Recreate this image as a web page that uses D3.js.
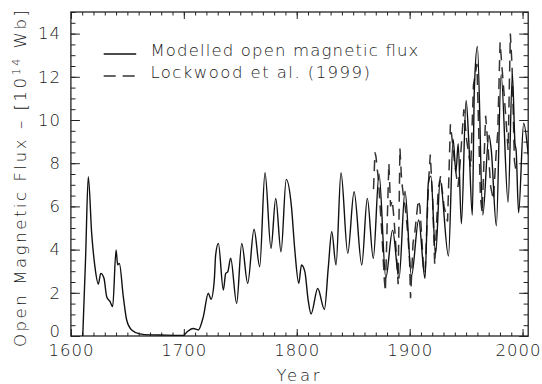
<!DOCTYPE html>
<html>
<head>
<meta charset="utf-8">
<script src="https://cdnjs.cloudflare.com/ajax/libs/d3/7.8.5/d3.min.js"></script>
<style>
  body { margin: 0; background: #fff; }
  svg text { font-family: "DejaVu Sans", sans-serif; font-weight: 200; fill: #1a1a1a; }
</style>
</head>
<body>
<div id="vis"></div>
<script>
//Modelled open magnetic flux as [year, 10^14 Wb]
var modelledFlux = [
  [1610.5, 0.0], [1613, 3.6], [1615.4, 7.38], [1618.4, 4.75], [1621.3, 3.2], [1624.3, 2.4],
  [1626.4, 2.9], [1629.3, 2.67], [1631.7, 1.82], [1634.6, 1.6], [1637, 1.36], [1640, 3.98],
  [1641.4, 3.3], [1642.9, 3.36], [1646.4, 1.82], [1649.4, 0.74], [1653.8, 0.28], [1661, 0.1],
  [1670, 0.05], [1685, 0.04], [1699.6, 0.02], [1703, 0.2], [1708.4, 0.35], [1712.8, 0.28],
  [1717.3, 0.9], [1721.7, 1.98], [1724.1, 1.7], [1727, 2.6], [1728.2, 3.75], [1730.6, 4.29],
  [1735, 2.13], [1737.1, 2.9], [1738.9, 2.97], [1741.5, 3.6], [1746.8, 1.51], [1751.3, 4.29],
  [1756.6, 2.44], [1762.2, 4.94], [1767.2, 3.21], [1771.9, 7.56], [1777.2, 4.06], [1781.4, 6.37],
  [1786.1, 3.9], [1790.7, 7.25], [1795.3, 6.0], [1798.3, 3.98], [1801.8, 2.44], [1804.2, 3.29],
  [1807.2, 2.98], [1810.1, 1.67], [1812.7, 1.02], [1818.6, 2.2], [1824.5, 1.23], [1828, 3.2],
  [1831, 4.83], [1834.8, 3.29], [1839.2, 7.56], [1845.2, 3.83], [1850.8, 6.68], [1857.6, 3.29],
  [1862.5, 6.37], [1867.8, 3.6], [1872.9, 7.5], [1878.9, 2.7], [1884.9, 4.9], [1890.6, 2.67],
  [1895.9, 6.7], [1901.6, 2.78], [1908, 5.37], [1913.6, 2.67], [1916.6, 7.1], [1918.8, 7.4],
  [1923, 3.8], [1927, 7.2], [1934.4, 3.7], [1938.5, 9.1], [1941, 7.6], [1943, 8.9],
  [1945.8, 5.2], [1950, 10.9], [1952.5, 8.9], [1955.5, 5.6], [1957.3, 11.4], [1960, 13.4],
  [1964.8, 5.6], [1970.2, 9.3], [1972.3, 8.6], [1976.8, 5.1], [1981, 12.1], [1987.2, 6.2],
  [1991, 12.1], [1993.3, 8.9], [1994.3, 8.6], [1996.5, 5.7], [2001, 9.85], [2005, 8.4]
];

//Lockwood et al. (1999) reconstruction, [year, 10^14 Wb]
var lockwoodFlux = [
  [1868, 6.8], [1869.3, 8.5], [1870.2, 8.3], [1872.4, 7.2], [1875.4, 4.75], [1877.6, 2.6],
  [1878.5, 2.05], [1880, 5.0], [1881.6, 8.0], [1883.1, 6.0], [1884.6, 6.3], [1886.2, 5.4],
  [1888.6, 3.5], [1889.8, 2.4], [1891.4, 8.7], [1892.9, 7.2], [1894.7, 6.4], [1896, 6.0],
  [1898.4, 4.75], [1900, 3.4], [1900.8, 1.75], [1903, 4.3], [1904.5, 4.75], [1907.6, 6.3],
  [1909.1, 6.0], [1912.2, 3.2], [1913.7, 2.9], [1916.8, 7.2], [1918.3, 8.4], [1920.4, 6.3],
  [1922.2, 3.3], [1925.3, 6.8], [1927.4, 7.4], [1930.5, 6.0], [1933.6, 5.3], [1936.1, 9.8],
  [1938.3, 8.8], [1939.8, 8.0], [1942.8, 6.9], [1944.3, 7.7], [1948, 10.5], [1950.4, 9.1],
  [1954.1, 7.8], [1956.5, 11.6], [1959.6, 12.6], [1962.7, 6.45], [1964.2, 5.7], [1967.3, 10.2],
  [1968.8, 9.2], [1971.8, 6.9], [1974.2, 6.3], [1976.4, 8.3], [1978, 9.4], [1980.1, 13.6],
  [1981.7, 12.5], [1984.1, 10.9], [1987.2, 8.6], [1989.2, 14.0], [1990.7, 12.5], [1992.8, 8.1],
  [1994.6, 7.5]
];

//Tick values and legend labels
var yearTicks = [1600, 1700, 1800, 1900, 2000];
var fluxTicks = [0, 2, 4, 6, 8, 10, 12, 14];
var legendLabels = ["Modelled open magnetic flux", "Lockwood et al. (1999)"];

//Margins and dimensions of the plot
var margin = {top: 12, right: 13.8, bottom: 48, left: 70.9},
    width = 542 - margin.left - margin.right,
    height = 384 - margin.top - margin.bottom;

var svgCanvas = d3.select("#vis")
                  .append("svg")
                  .attr("width", 542)
                  .attr("height", 384);

var plot = svgCanvas.append("g")
                    .attr("transform", "translate(" + margin.left + "," + margin.top + ")");

var x = d3.scaleLinear().domain([1600, 2005]).range([0, width]);
var y = d3.scaleLinear().domain([0, 15]).range([height, 0]);

//Clip so the curves stay inside the frame
plot.append("clipPath").attr("id", "clip")
    .append("rect").attr("width", width).attr("height", height);

//Minor ticks (every 10 years, every 0.5 units) on all four sides, pointing in
var minorYears = d3.range(1600, 2006, 10);
var minorFlux = d3.range(0, 15.01, 0.5);

function drawAxis(axis, transform) {
  var g = plot.append("g").attr("class", "axis").attr("transform", transform).call(axis);
  g.select(".domain").remove();
  g.selectAll("line").attr("stroke", "#222").attr("stroke-width", 1);
  return g;
}

drawAxis(d3.axisBottom(x).tickValues(minorYears).tickSize(-3.5).tickFormat(""), "translate(0," + height + ")");
drawAxis(d3.axisTop(x).tickValues(minorYears).tickSize(-3.5).tickFormat(""), "translate(0,0)");
drawAxis(d3.axisLeft(y).tickValues(minorFlux).tickSize(-4.6).tickFormat(""), "translate(0,0)");
drawAxis(d3.axisRight(y).tickValues(minorFlux).tickSize(-4.6).tickFormat(""), "translate(" + width + ",0)");

//Major ticks and labels
var xAxisG = drawAxis(d3.axisBottom(x).tickValues(yearTicks).tickSize(-7).tickPadding(8.3).tickFormat(d3.format("d")),
                      "translate(0," + height + ")");
drawAxis(d3.axisTop(x).tickValues(yearTicks).tickSize(-7).tickFormat(""), "translate(0,0)");
var yAxisG = drawAxis(d3.axisLeft(y).tickValues(fluxTicks).tickSize(-9).tickPadding(10).tickFormat(d3.format("d")),
                      "translate(0,0)");
drawAxis(d3.axisRight(y).tickValues(fluxTicks).tickSize(-9).tickFormat(""), "translate(" + width + ",0)");

svgCanvas.selectAll(".axis text")
         .attr("font-family", null)
         .attr("font-size", null)
         .style("font-size", "16.5px")
         .style("letter-spacing", "1px");

//The last year label would run past the right edge: pull it in just enough
xAxisG.selectAll(".tick text").filter(function(d) { return d === 2000; })
      .attr("text-anchor", "end")
      .attr("x", 542 - margin.left - x(2000) - 1);

//The zero label sits a little above its tick
yAxisG.selectAll(".tick text").filter(function(d) { return d === 0; }).attr("dy", "0.0em");

//Frame
plot.append("rect")
    .attr("width", width)
    .attr("height", height)
    .attr("fill", "none")
    .attr("stroke", "#222")
    .attr("stroke-width", 1.3);

//Curves
var lineGen = d3.line()
                .x(function(d) { return x(d[0]); })
                .y(function(d) { return y(d[1]); });

plot.append("path")
    .datum(lockwoodFlux)
    .attr("clip-path", "url(#clip)")
    .attr("fill", "none")
    .attr("stroke", "#333")
    .attr("stroke-width", 1.5)
    .attr("stroke-dasharray", "11,7")
    .attr("d", lineGen.curve(d3.curveLinear));

plot.append("path")
    .datum(modelledFlux)
    .attr("clip-path", "url(#clip)")
    .attr("fill", "none")
    .attr("stroke", "#111")
    .attr("stroke-width", 1.4)
    .attr("d", lineGen.curve(d3.curveMonotoneX));

//Legend
var legend = svgCanvas.append("g");
var legendRows = legend.selectAll("g")
                       .data(legendLabels)
                       .enter().append("g")
                       .attr("transform", function(d, i) { return "translate(103.7," + (54 + i * 22) + ")"; });

legendRows.append("line")
          .attr("x1", 0).attr("x2", 32.5)
          .attr("stroke", function(d, i) { return i === 0 ? "#111" : "#333"; })
          .attr("stroke-width", 1.4)
          .attr("stroke-dasharray", function(d, i) { return i === 0 ? null : "12,7"; });

legendRows.append("text")
          .attr("x", 46.7)
          .attr("y", function(d, i) { return i === 0 ? 2 : 2.3; })
          .attr("textLength", function(d, i) { return i === 0 ? 268 : 219.5; })
          .attr("lengthAdjust", "spacing")
          .style("font-size", "16.5px")
          .text(function(d) { return d; });

//Axis titles
svgCanvas.append("text")
         .attr("x", 298)
         .attr("y", 381)
         .attr("text-anchor", "middle")
         .attr("textLength", 43)
         .attr("lengthAdjust", "spacing")
         .style("font-size", "16.5px")
         .text("Year");

var yTitle = svgCanvas.append("text")
                      .attr("transform", "translate(26,178.5) rotate(-90)")
                      .attr("text-anchor", "middle")
                      .attr("textLength", 337)
                      .attr("lengthAdjust", "spacing")
                      .style("font-size", "16.5px");
yTitle.append("tspan").text("Open Magnetic Flux \u2013 [10");
yTitle.append("tspan").attr("dy", -6).style("font-size", "11px").text("14");
yTitle.append("tspan").attr("dy", 6).text(" Wb]");
</script>
</body>
</html>
